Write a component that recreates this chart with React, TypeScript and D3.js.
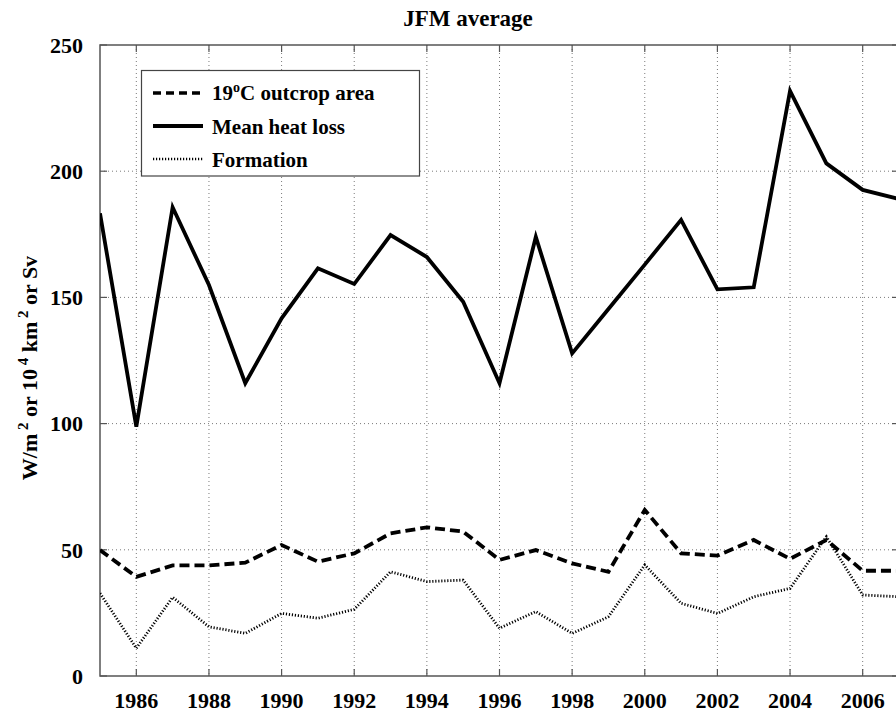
import React from "react";
import * as d3 from "d3";

// JFM (Jan–Mar) averages, 1985–2007
const years = [1985, 1986, 1987, 1988, 1989, 1990, 1991, 1992, 1993, 1994, 1995, 1996, 1997, 1998, 1999, 2000, 2001, 2002, 2003, 2004, 2005, 2006, 2007];
const outcropArea = [49.9, 39.3, 43.8, 43.8, 44.9, 51.9, 45.3, 48.6, 56.5, 58.9, 57.2, 46.0, 49.9, 44.6, 41.3, 65.8, 48.6, 47.7, 53.9, 46.4, 53.9, 41.7, 41.7];
const meanHeatLoss = [183.3, 98.8, 185.7, 154.9, 116.0, 141.7, 161.5, 155.3, 174.7, 166.0, 148.3, 116.0, 174.0, 127.8, 145.4, 163.0, 180.7, 153.2, 154.0, 231.8, 203.1, 192.6, 189.0];
const formation = [32.8, 11.0, 31.2, 19.5, 16.9, 24.8, 22.9, 26.4, 41.3, 37.4, 38.0, 18.9, 25.5, 16.9, 23.5, 44.0, 28.8, 24.8, 31.4, 34.7, 55.2, 32.1, 31.4];
const xTicks = [1986, 1988, 1990, 1992, 1994, 1996, 1998, 2000, 2002, 2004, 2006];
const yTicks = [0, 50, 100, 150, 200, 250];

const W = 896;
const H = 712;
const M = { left: 100, right: 899, top: 45, bottom: 676 };
const FONT = "'Liberation Serif', 'Times New Roman', serif";

export default function App() {
  const x = d3.scaleLinear().domain([1985, 2007]).range([M.left, M.right]);
  const y = d3.scaleLinear().domain([0, 250]).range([M.bottom, M.top]);
  const line = d3
    .line<number>()
    .x((_, i) => x(years[i]))
    .y((v) => y(v));

  const axisColor = "#555";
  const gridColor = "#7a7a7a";
  const tickLen = 7;

  const series = [
    { label: "outcrop", values: outcropArea, width: 3.8, dash: "10,5" },
    { label: "heat", values: meanHeatLoss, width: 3.8, dash: undefined },
    { label: "formation", values: formation, width: 2.8, dash: "1.2,1.8" },
  ];

  const legendRows = [
    { dash: "8,5", width: 3.6, y: 93 },
    { dash: undefined, width: 3.8, y: 126 },
    { dash: "1.2,1.8", width: 2.4, y: 159 },
  ];

  return (
    <svg
      width={W}
      height={H}
      style={{ position: "absolute", left: 0, top: 0, background: "#fff" }}
      fontFamily={FONT}
      fontWeight="bold"
    >
      <defs>
        <clipPath id="plotClip">
          <rect x={M.left} y={M.top} width={M.right - M.left} height={M.bottom - M.top} />
        </clipPath>
      </defs>

      {/* grid */}
      <g stroke={gridColor} strokeWidth={1} strokeDasharray="1,3">
        {xTicks.map((t) => (
          <line key={"gx" + t} x1={x(t)} x2={x(t)} y1={M.top} y2={M.bottom} />
        ))}
        {yTicks.slice(1, -1).map((t) => (
          <line key={"gy" + t} x1={M.left} x2={M.right} y1={y(t)} y2={y(t)} />
        ))}
      </g>

      {/* tick marks (inward, on all four sides) */}
      <g stroke={axisColor} strokeWidth={1.2}>
        {xTicks.map((t) => (
          <g key={"tx" + t}>
            <line x1={x(t)} x2={x(t)} y1={M.bottom} y2={M.bottom - tickLen} />
            <line x1={x(t)} x2={x(t)} y1={M.top} y2={M.top + tickLen} />
          </g>
        ))}
        {yTicks.map((t) => (
          <g key={"ty" + t}>
            <line x1={M.left} x2={M.left + tickLen} y1={y(t)} y2={y(t)} />
            <line x1={M.right} x2={M.right - tickLen} y1={y(t)} y2={y(t)} />
          </g>
        ))}
      </g>

      {/* frame */}
      <rect
        x={M.left}
        y={M.top}
        width={M.right - M.left}
        height={M.bottom - M.top}
        fill="none"
        stroke={axisColor}
        strokeWidth={1.5}
      />

      {/* data lines */}
      <g clipPath="url(#plotClip)" fill="none" stroke="#000" strokeLinejoin="miter">
        {series.map((s) => (
          <path key={s.label} d={line(s.values) || ""} strokeWidth={s.width} strokeDasharray={s.dash} />
        ))}
      </g>

      {/* tick labels */}
      <g fontSize={22} fill="#000">
        {xTicks.map((t) => (
          <text key={"lx" + t} x={x(t)} y={708} textAnchor="middle">
            {t}
          </text>
        ))}
        {yTicks.map((t) => (
          <text key={"ly" + t} x={83} y={y(t)} dy="0.35em" textAnchor="end">
            {t}
          </text>
        ))}
      </g>

      {/* title */}
      <text x={468} y={26} textAnchor="middle" fontSize={23}>
        JFM average
      </text>

      {/* y-axis label */}
      <text transform="translate(37,368) rotate(-90)" textAnchor="middle" fontSize={22}>
        W/m
        <tspan fontSize={15} dy={-9}> 2</tspan>
        <tspan dy={9}> or 10</tspan>
        <tspan fontSize={15} dy={-9}> 4</tspan>
        <tspan dy={9}> km</tspan>
        <tspan fontSize={15} dy={-9}> 2</tspan>
        <tspan dy={9}> or Sv</tspan>
      </text>

      {/* legend */}
      <g>
        <rect x={141.5} y={70.5} width={278} height={105.5} fill="#fff" stroke="#444" strokeWidth={1.2} />
        {legendRows.map((r, i) => (
          <line
            key={"lg" + i}
            x1={153}
            x2={203}
            y1={r.y}
            y2={r.y}
            stroke="#000"
            strokeWidth={r.width}
            strokeDasharray={r.dash}
          />
        ))}
        <g fontSize={21}>
          <text x={212} y={100}>
            19
            <tspan fontSize={14} dy={-8}>o</tspan>
            <tspan dy={8}>C outcrop area</tspan>
          </text>
          <text x={212} y={134}>
            Mean heat loss
          </text>
          <text x={212} y={167}>
            Formation
          </text>
        </g>
      </g>
    </svg>
  );
}
